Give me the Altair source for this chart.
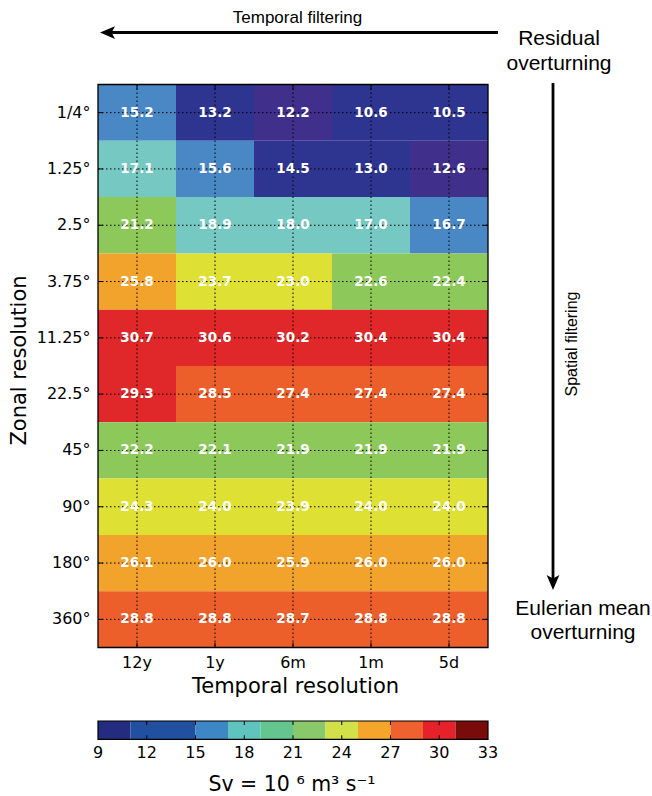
import altair as alt
import pandas as pd

# ---------------- data ----------------
zonal = ["1/4°", "1.25°", "2.5°", "3.75°", "11.25°", "22.5°", "45°", "90°", "180°", "360°"]
temporal = ["12y", "1y", "6m", "1m", "5d"]

row_quarter = [15.2, 13.2, 12.2, 10.6, 10.5]
row_1p25 = [17.1, 15.6, 14.5, 13.0, 12.6]
row_2p5 = [21.2, 18.9, 18.0, 17.0, 16.7]
row_3p75 = [25.8, 23.7, 23.0, 22.6, 22.4]
row_11p25 = [30.7, 30.6, 30.2, 30.4, 30.4]
row_22p5 = [29.3, 28.5, 27.4, 27.4, 27.4]
row_45 = [22.2, 22.1, 21.9, 21.9, 21.9]
row_90 = [24.3, 24.0, 23.9, 24.0, 24.0]
row_180 = [26.1, 26.0, 25.9, 26.0, 26.0]
row_360 = [28.8, 28.8, 28.7, 28.8, 28.8]
rows_values = [row_quarter, row_1p25, row_2p5, row_3p75, row_11p25,
               row_22p5, row_45, row_90, row_180, row_360]

# colour classes of the cells
cell_thresholds = [12, 13, 15, 17, 19, 21, 23, 25, 27, 29, 31]
cell_colors = ["#2e3590", "#40308b", "#2e3590", "#4a87c5", "#76c8c2", "#65c58e",
               "#8dc85b", "#dfe034", "#f2a32c", "#ec5f2b", "#e0282a", "#7a0b0b"]

# colour bar
cb_lo = [9, 11, 13, 15, 17, 19, 21, 23, 25, 27, 29, 31]
cb_hi = [11, 13, 15, 17, 19, 21, 23, 25, 27, 29, 31, 33]
cb_colors = ["#242c80", "#2150a0", "#2150a0", "#3d87c6", "#5fc4bd", "#65c58e",
             "#89c96c", "#d2e04a", "#f5a52a", "#ef612e", "#e5212a", "#7a0b0b"]
cb_ticks = [9, 12, 15, 18, 21, 24, 27, 30, 33]
cb_inner_ticks = [12, 15, 18, 21, 24, 27, 30]

# ---------------- tables ----------------
cells = pd.DataFrame(
    [{"z": z, "t": t, "v": rows_values[i][j]}
     for i, z in enumerate(zonal) for j, t in enumerate(temporal)]
)
col_df = pd.DataFrame({"t": temporal})
row_df = pd.DataFrame({"z": zonal})
cb_df = pd.DataFrame({"lo": cb_lo, "hi": cb_hi, "k": [str(i) for i in range(len(cb_lo))]})
cb_tick_df = pd.DataFrame({"v": cb_ticks})
cb_inner_df = pd.DataFrame({"v": cb_inner_ticks})
one = pd.DataFrame({"a": [0]})

W, H = 390, 563
FONT = "DejaVu Sans"
AFONT = "Liberation Sans"

xb = alt.Scale(type="band", domain=temporal, paddingInner=0, paddingOuter=0)
yb = alt.Scale(type="band", domain=zonal, paddingInner=0, paddingOuter=0)
xp = alt.Scale(type="point", domain=temporal, padding=0.5)
yp = alt.Scale(type="point", domain=zonal, padding=0.5)
cbx = alt.Scale(type="linear", domain=[9, 33], nice=False, zero=False)

heat = alt.Chart(cells).mark_rect(strokeWidth=0).encode(
    x=alt.X("t:N", scale=xb, axis=alt.Axis(
        ticks=False, domain=False, grid=False, labelAngle=0,
        labelFont=FONT, labelFontSize=16, labelPadding=7, labelColor="black",
        title="Temporal resolution", titleFont=FONT, titleFontSize=21,
        titleFontWeight="normal", titleColor="black",
        titleX=W / 2 + 2, titleY=44.5, titleBaseline="alphabetic")),
    y=alt.Y("z:N", scale=yb, axis=alt.Axis(
        ticks=False, domain=False, grid=False,
        labelFont=FONT, labelFontSize=16, labelPadding=8, labelColor="black",
        title="Zonal resolution", titleFont=FONT, titleFontSize=21,
        titleFontWeight="normal", titleColor="black",
        titleX=-73, titleY=H / 2 - 6, titleBaseline="alphabetic")),
    color=alt.Color("v:Q", scale=alt.Scale(type="threshold", domain=cell_thresholds,
                                           range=cell_colors), legend=None),
)

dash = [1.5, 2.5]
vgrid = alt.Chart(col_df).mark_rule(color="black", strokeWidth=1, strokeDash=dash).encode(
    x=alt.X("t:N", scale=xp, axis=None), y=alt.value(0), y2=alt.value(H))
hgrid = alt.Chart(row_df).mark_rule(color="black", strokeWidth=1, strokeDash=dash).encode(
    y=alt.Y("z:N", scale=yp, axis=None), x=alt.value(0), x2=alt.value(W))

tk = 5
tick_top = alt.Chart(col_df).mark_rule(color="black", strokeWidth=1).encode(
    x=alt.X("t:N", scale=xp, axis=None), y=alt.value(0), y2=alt.value(tk))
tick_bot = alt.Chart(col_df).mark_rule(color="black", strokeWidth=1).encode(
    x=alt.X("t:N", scale=xp, axis=None), y=alt.value(H - tk), y2=alt.value(H))
tick_left = alt.Chart(row_df).mark_rule(color="black", strokeWidth=1).encode(
    y=alt.Y("z:N", scale=yp, axis=None), x=alt.value(0), x2=alt.value(tk))
tick_right = alt.Chart(row_df).mark_rule(color="black", strokeWidth=1).encode(
    y=alt.Y("z:N", scale=yp, axis=None), x=alt.value(W - tk), x2=alt.value(W))

frame = alt.Chart(one).mark_rect(filled=False, stroke="black", strokeWidth=1.3).encode(
    x=alt.value(0), x2=alt.value(W), y=alt.value(0), y2=alt.value(H))

labels = alt.Chart(cells).mark_text(
    font=FONT, fontSize=13.5, fontWeight="bold", color="white", baseline="middle"
).encode(
    x=alt.X("t:N", scale=xp, axis=None),
    y=alt.Y("z:N", scale=yp, axis=None),
    text=alt.Text("v:Q", format=".1f"),
)

# ---------------- colour bar ----------------
CB_Y0, CB_Y1 = 636.5, 654.8
cbar = alt.Chart(cb_df).mark_rect(strokeWidth=0).encode(
    x=alt.X("lo:Q", scale=cbx, axis=None), x2="hi:Q",
    y=alt.value(CB_Y0), y2=alt.value(CB_Y1),
    color=alt.Color("k:N", scale=alt.Scale(domain=list(cb_df["k"]), range=cb_colors), legend=None),
)
cb_ticks_top = alt.Chart(cb_inner_df).mark_rule(color="black", strokeWidth=1).encode(
    x=alt.X("v:Q", scale=cbx, axis=None), y=alt.value(CB_Y0), y2=alt.value(CB_Y0 + 4))
cb_ticks_bot = alt.Chart(cb_inner_df).mark_rule(color="black", strokeWidth=1).encode(
    x=alt.X("v:Q", scale=cbx, axis=None), y=alt.value(CB_Y1 - 4), y2=alt.value(CB_Y1))
cb_frame = alt.Chart(one).mark_rect(filled=False, stroke="black", strokeWidth=1.2).encode(
    x=alt.value(0), x2=alt.value(W), y=alt.value(CB_Y0), y2=alt.value(CB_Y1))
cb_labels = alt.Chart(cb_tick_df).mark_text(
    font=FONT, fontSize=16, color="black", baseline="alphabetic", align="center"
).encode(x=alt.X("v:Q", scale=cbx, axis=None), y=alt.value(673.2), text="v:Q")
cb_title = alt.Chart(one).mark_text(
    text="Sv = 10 ⁶ m³ s⁻¹", font=FONT, fontSize=20.5, color="black",
    baseline="alphabetic", align="center"
).encode(x=alt.value(194), y=alt.value(706.5))


# ---------------- annotations ----------------
def txt(s, x, y, size, angle=0, baseline="alphabetic"):
    kw = dict(text=s, font=AFONT, fontSize=size, color="black",
              baseline=baseline, align="center")
    if angle:
        kw["angle"] = angle
    return alt.Chart(one).mark_text(**kw).encode(x=alt.value(x), y=alt.value(y))


head_left = "M-1,0L1,-0.85L0.55,0L1,0.85Z"
head_down = "M0,1L-0.85,-1L0,-0.55L0.85,-1Z"

h_line = alt.Chart(one).mark_rule(color="black", strokeWidth=2.8).encode(
    x=alt.value(8), x2=alt.value(400), y=alt.value(-52))
h_head = alt.Chart(one).mark_point(shape=head_left, filled=True, size=225,
                                   color="black", opacity=1, strokeWidth=0).encode(
    x=alt.value(9.5), y=alt.value(-52))
v_line = alt.Chart(one).mark_rule(color="black", strokeWidth=2.8).encode(
    x=alt.value(455), y=alt.value(-1.5), y2=alt.value(497))
v_head = alt.Chart(one).mark_point(shape=head_down, filled=True, size=225,
                                   color="black", opacity=1, strokeWidth=0).encode(
    x=alt.value(455), y=alt.value(498))

ann = [
    txt("Temporal filtering", 199.5, -61.8, 17),
    txt("Residual", 461, -39.5, 21),
    txt("overturning", 461, -15, 21),
    txt("Spatial filtering", 474, 259.5, 16, angle=270, baseline="middle"),
    txt("Eulerian mean", 485, 530.5, 21),
    txt("overturning", 485, 554, 21),
]

chart = alt.layer(
    heat, vgrid, hgrid, tick_top, tick_bot, tick_left, tick_right, frame, labels,
    cbar, cb_ticks_top, cb_ticks_bot, cb_frame, cb_labels, cb_title,
    h_line, h_head, v_line, v_head, *ann
).resolve_scale(
    x="independent", y="independent", color="independent"
).properties(
    width=W, height=H,
    padding={"left": 98, "top": 84.5, "right": 164, "bottom": 148.5},
    autosize=alt.AutoSizeParams(type="none"),
    background="white",
).configure_view(stroke=None)

chart.save("out.html", embed_options={"renderer": "svg", "actions": False})
